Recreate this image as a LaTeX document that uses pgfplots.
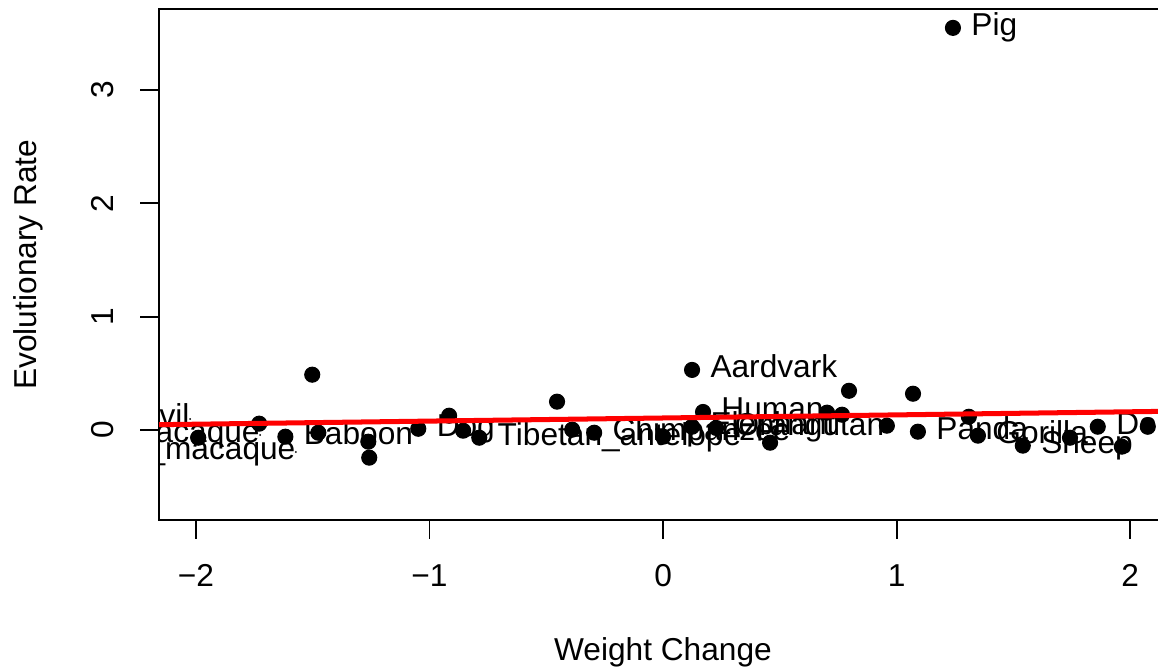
\documentclass[border=0pt]{standalone}
\usepackage{fontspec}
\setmainfont{Liberation Sans}
\usepackage{pgfplots}
\usepackage{pgfplotstable}
\pgfplotsset{compat=1.18}

% labels drawn to the right of their points
\pgfplotstableread{
x y label
-1.617 -0.059 Baboon
-1.048 0.011 Dog
-0.787 -0.068 Tibetan\_antelope
-0.295 -0.024 Chimpanzee
0.124 0.530 Aardvark
0.124 0.029 Elephant
0.171 0.159 Human
0.227 0.018 Orangutan
1.091 -0.015 Panda
1.241 3.548 Pig
1.348 -0.050 Gorilla
1.540 -0.138 Sheep
1.861 0.029 Dolphin
}\labs

% labels of points left of the plot region, given by where each label ends
\pgfplotstableread{
x y label
-1.725 -0.044 Japanese\_macaque
-1.572 -0.194 Rhesus\_macaque
-2.025 0.097 Devil
}\labsleft

\pgfplotstableread{
x y
-3.025 -0.044
-2.756 -0.194
-2.392 0.097
-1.990 -0.068
-1.729 0.056
-1.617 -0.059
-1.502 0.488
-1.476 -0.024
-1.262 -0.103
-1.258 -0.244
-1.048 0.011
-0.916 0.126
-0.856 -0.006
-0.787 -0.068
-0.454 0.250
-0.389 0.003
-0.295 -0.024
0.000 -0.059
0.124 0.530
0.124 0.029
0.171 0.159
0.227 0.018
0.458 -0.112
0.702 0.153
0.766 0.135
0.796 0.346
0.958 0.038
1.070 0.320
1.091 -0.015
1.241 3.548
1.309 0.117
1.348 -0.050
1.540 -0.138
1.742 -0.068
1.861 0.029
1.964 -0.147
2.075 0.029
}\pts

\begin{document}
\begin{tikzpicture}
\useasboundingbox (0,0) rectangle (439pt,254.75pt);
\begin{axis}[
  at={(60.28pt,57.62pt)}, anchor=south west,
  scale only axis, width=382.1pt, height=193.6pt,
  xmin=-2.158, xmax=2.157, ymin=-0.794, ymax=3.712,
  axis line style={black, line width=0.75pt},
  tick style={black, line width=0.75pt},
  tick align=outside, tick pos=left, major tick length=7.2pt,
  xtick={-2,-1,0,1,2}, xticklabels={−2,−1,0,1,2},
  ytick={0,1,2,3}, yticklabels={0,1,2,3},
  xticklabel style={font=\fontsize{12}{14}\selectfont, anchor=base, yshift=-18.0pt},
  yticklabel style={font=\fontsize{12}{14}\selectfont, xshift=-10.2pt, rotate=90, anchor=base},
  xlabel={Weight Change}, ylabel={Evolutionary Rate},
  xlabel style={font=\fontsize{12}{14}\selectfont, at={(axis description cs:0.5,-0.2761)}, anchor=base},
  ylabel style={font=\fontsize{12}{14}\selectfont, at={(axis description cs:-0.1213,0.5)}, anchor=base},
  clip marker paths=true,
]
\addplot[only marks, mark=*, mark size=2.85pt, black, mark options={fill=black, draw=black}] table[x=x,y=y]{\pts};
\addplot[only marks, mark=*, mark size=0.1pt, mark options={draw=none,fill=none},
  nodes near coords, point meta=explicit symbolic,
  every node near coord/.style={anchor=base west, inner sep=0pt, xshift=6.8pt, yshift=-3pt, font=\fontsize{12}{14}\selectfont, text=black}]
  table[x=x,y=y,meta=label]{\labs};
\addplot[only marks, mark=*, mark size=0.1pt, mark options={draw=none,fill=none},
  nodes near coords, point meta=explicit symbolic,
  every node near coord/.style={anchor=base east, inner sep=0pt, yshift=-3pt, font=\fontsize{12}{14}\selectfont, text=black}]
  table[x=x,y=y,meta=label]{\labsleft};
\addplot[red, line width=1.9pt] coordinates {(-2.3,0.043) (2.3,0.169)};
\end{axis}
\end{tikzpicture}
\end{document}
